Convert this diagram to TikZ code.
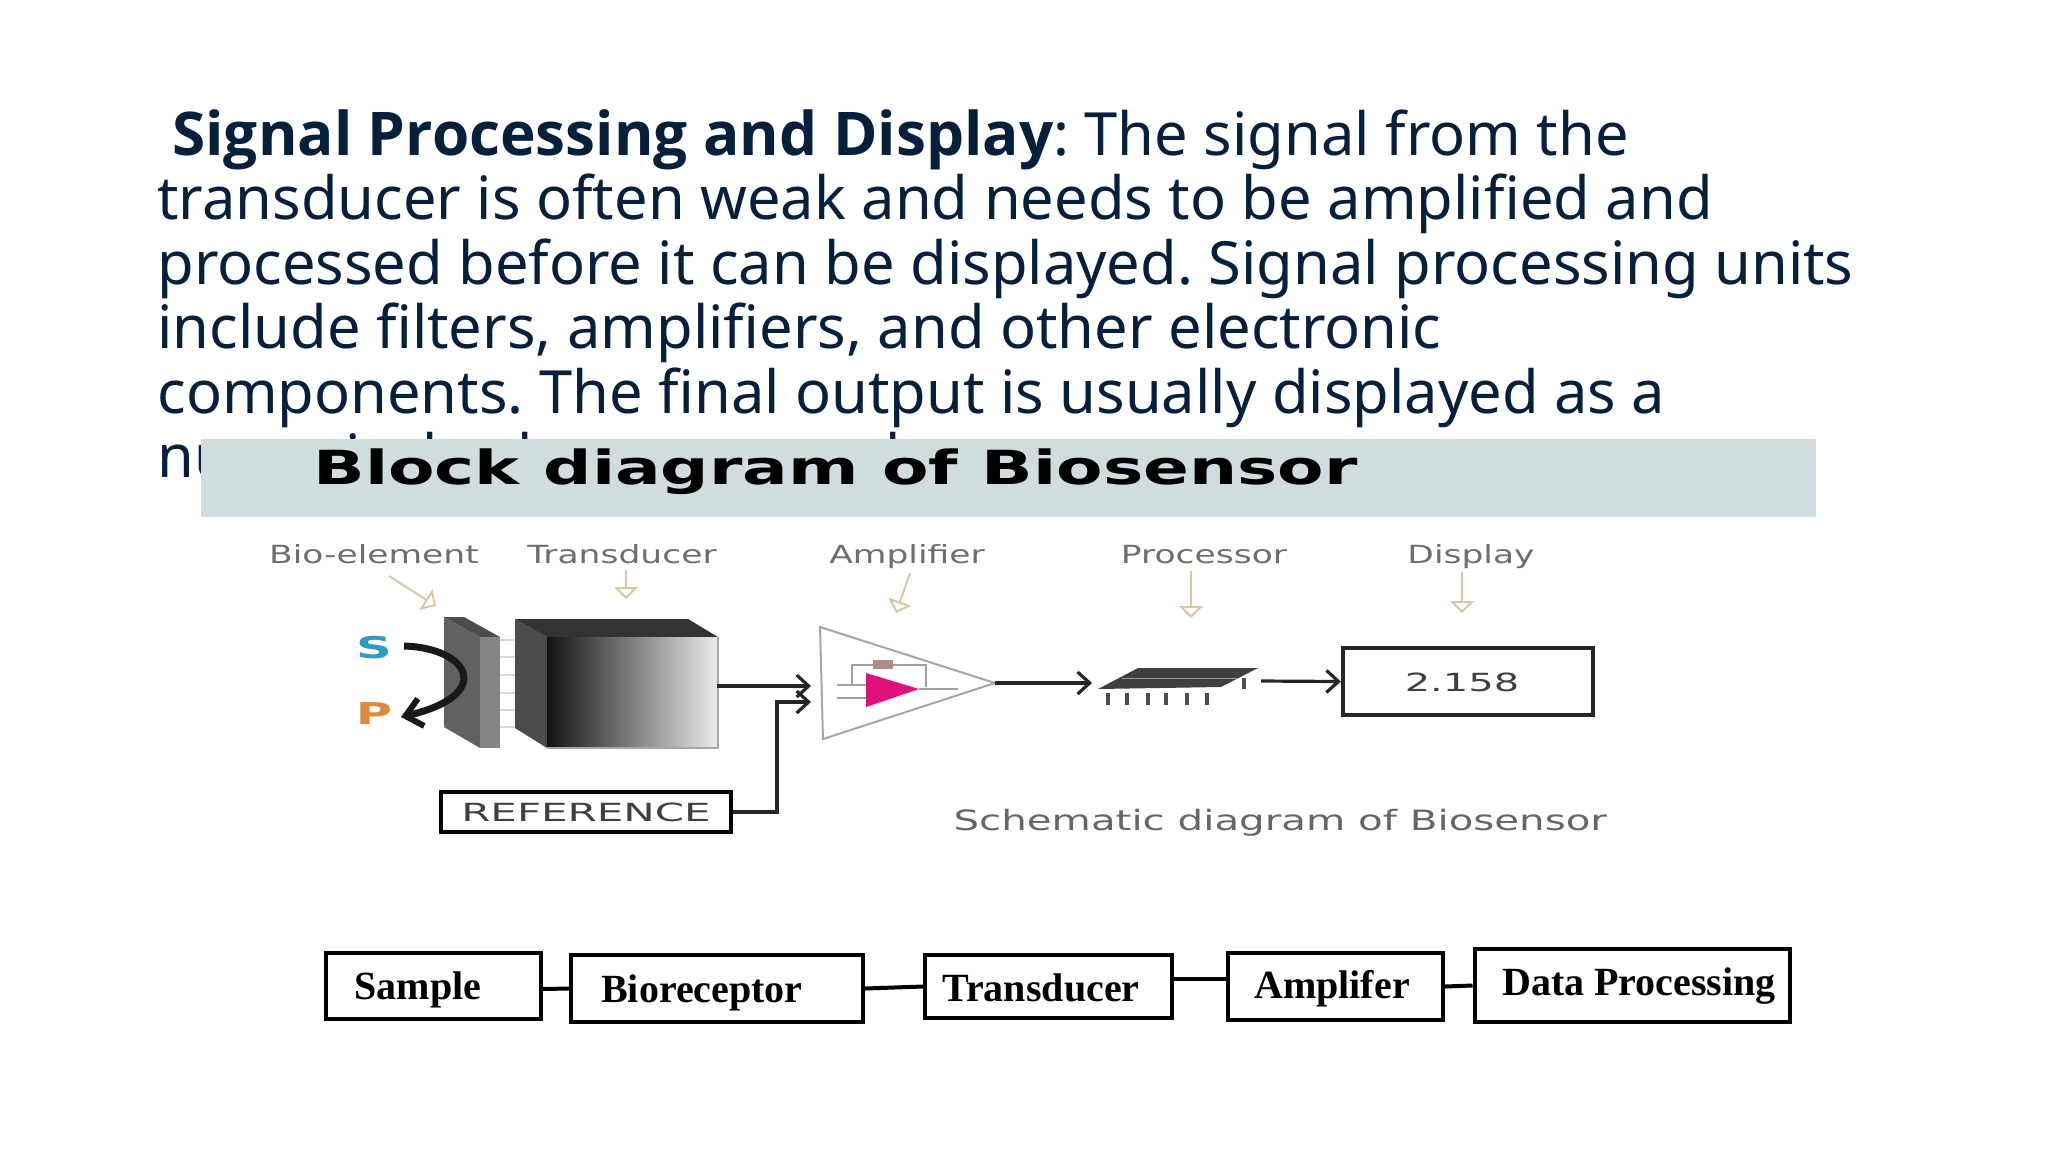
\documentclass[tikz,border=0pt]{standalone}
\usepackage{fontspec}
\usetikzlibrary{arrows.meta}
\setmainfont{Noto Sans}[BoldFont={Open Sans Bold}, BoldFeatures={Scale=1.011}]
\newfontfamily\titlefont{DejaVu Sans}
\newfontfamily\boxfont{Liberation Serif}
\definecolor{slidetext}{HTML}{06203C}
\definecolor{bandfill}{HTML}{D1DCDF}
\definecolor{labelgray}{HTML}{6E6E6E}
\definecolor{tanline}{HTML}{D9C6A5}
\definecolor{sblue}{HTML}{2E9BBF}
\definecolor{porange}{HTML}{D98C3C}
\definecolor{magentaamp}{HTML}{E0107A}
\frenchspacing
\begin{document}
\begin{tikzpicture}[x=0.5pt, y=-0.5pt]
    % Define styles
    \tikzset{
        paragraph/.style={anchor=north west, inner sep=0pt, align=left, text=slidetext, font=\fontsize{29.8}{32.25}\selectfont},
        toplabel/.style={text=labelgray, xscale=1.38, text height=9pt, text depth=3pt, font=\titlefont\fontsize{12.5}{14}\selectfont},
        tanarrow/.style={draw=tanline, line width=1pt, -{Triangle[open, length=6pt, width=12pt]}},
        sigarrow/.style={draw=black!85, line width=1.6pt, -{Straight Barb[length=6pt, width=11pt, line width=1.6pt]}},
        valuebox/.style={draw=black!85, line width=2.2pt, fill=white, inner sep=0pt},
        blockbox/.style={draw=black, line width=2pt, fill=white, inner sep=0pt},
        blocktext/.style={font=\boxfont\bfseries\fontsize{20}{23}\selectfont},
        linkline/.style={draw=black, line width=2pt},
        ampwire/.style={draw=gray!75, line width=0.8pt}
    }
    \useasboundingbox (0,0) rectangle (2048,1152);

    % Slide text
    \node[paragraph] (bodytext) at (157,109) {\hspace*{7.5pt}\textbf{Signal Processing and Display}: The signal from the\\
        transducer is often weak and needs to be amplified and\\
        processed before it can be displayed. Signal processing units\\
        include filters, amplifiers, and other electronic\\
        components. The final output is usually displayed as a\\
        numerical value on a graph.};

    % Title band
    \fill[bandfill] (201,439) rectangle (1816,517);
    \node[anchor=west, inner sep=0pt, xscale=1.44, font=\titlefont\bfseries\fontsize{23.5}{28}\selectfont] (bandtitle) at (313,472) {Block diagram of Biosensor};

    % Top labels
    \node[toplabel] (lbio) at (374,557) {Bio-element};
    \node[toplabel] (ltrans) at (622,557) {Transducer};
    \node[toplabel] (lamp) at (907,557) {Amplifier};
    \node[toplabel] (lproc) at (1204,557) {Processor};
    \node[toplabel] (ldisp) at (1471,557) {Display};

    % Small arrows
    \draw[tanarrow] (389,576) -- (436,606);
    \draw[tanarrow] (626,570) -- (626,599);
    \draw[tanarrow] (910,573) -- (896,613);
    \draw[tanarrow] (1191,571) -- (1191,618);
    \draw[tanarrow] (1462,572) -- (1462,613);

    % Bio-element slab
    \fill[black!62] (444,617) -- (480,637) -- (480,748) -- (444,727) -- cycle;
    \fill[black!70] (444,617) -- (464,617) -- (500,637) -- (480,637) -- cycle;
    \fill[black!48] (480,637) -- (500,637) -- (500,748) -- (480,748) -- cycle;
    \foreach \ypin in {640,657,675,693,710,727}
        \draw[black!15, line width=0.8pt] (500,\ypin) -- (515,\ypin);

    % Transducer block
    \fill[black!70] (515,619) -- (547,637) -- (547,748) -- (515,728) -- cycle;
    \fill[black!80] (515,619) -- (688,619) -- (718,637) -- (547,637) -- cycle;
    \shade[left color=black!92, middle color=black!52, right color=black!8] (547,637) rectangle (718,748);
    \draw[black!35, line width=0.8pt] (718,637) -- (718,748) -- (547,748);

    % Substrate and product
    \node[text=sblue, xscale=1.65, inner sep=0pt, font=\titlefont\bfseries\fontsize{15}{18}\selectfont] (subs) at (374,648) {S};
    \node[text=porange, xscale=1.65, inner sep=0pt, font=\titlefont\bfseries\fontsize{15}{18}\selectfont] (prod) at (374,714) {P};
    \draw[black!90, line width=3.5pt, -{Straight Barb[length=8pt, width=14pt, line width=3pt]}] (404,646) .. controls (470,648) and (495,695) .. (401,717);

    % Amplifier
    \coordinate (ampin1) at (811,686);
    \coordinate (ampin2) at (811,702);
    \coordinate (ampout) at (995,683);
    \draw[draw=black!35, line width=1pt, fill=white] (820,627) -- (ampout) -- (823,739) -- cycle;
    \draw[ampwire] (837,685) -- (866,685);
    \draw[ampwire] (837,698) -- (866,698);
    \draw[ampwire] (919,689) -- (958,689);
    \draw[ampwire] (852,685) -- (852,665) -- (926,665) -- (926,687);
    \fill[black!25!pink!70!gray] (873,660) rectangle (893,669);
    \fill[magentaamp] (866,673) -- (919,689) -- (866,707) -- cycle;

    % Reference
    \node[draw=black, line width=2.2pt, fill=white, minimum width=145pt, minimum height=20pt, inner sep=0pt, text=black!75] (reference) at (586,812) {\titlefont\fontsize{12.5}{15}\selectfont\scalebox{1.68}[1]{REFERENCE}};
    \coordinate (transout) at (717,686);
    \draw[sigarrow] (transout) -- (ampin1);
    \draw[sigarrow] (reference.east) -| (777,702) -- (ampin2);

    % Processor chip
    \coordinate (chipin) at (1092,683);
    \coordinate (chipout) at (1261,681);
    \draw[sigarrow] (ampout) -- (chipin);
    \fill[black!75] (1138,668) -- (1258,668) -- (1221,687) -- (1098,689) -- cycle;
    \draw[black!40, line width=0.4pt] (1122,678) -- (1238,678);
    \foreach \xpin in {1108,1127,1148,1166,1187,1207}
        \draw[black!70, line width=2.2pt] (\xpin,693) -- (\xpin,705);
    \draw[black!70, line width=2.2pt] (1244,678) -- (1244,689);

    % Display
    \node[valuebox, minimum width=125pt, minimum height=33.5pt] (display) at (1468,681.5) {};
    \node[text=black!75, xscale=1.6, inner sep=0pt, font=\titlefont\fontsize{12.5}{15}\selectfont] (dvalue) at (1462,682) {2.158};
    \draw[sigarrow] (chipout) -- (display.west);

    \node[anchor=west, text=black!60, inner sep=0pt, xscale=1.44, font=\titlefont\fontsize{14}{16}\selectfont] (schemtitle) at (953,823) {Schematic diagram of Biosensor};

    % Lower block row
    \node[blockbox, minimum width=107.5pt, minimum height=33pt] (sample) at (433,986) {};
    \node[blockbox, minimum width=146pt, minimum height=33.5pt] (biorec) at (717,988.5) {};
    \node[blockbox, minimum width=123.5pt, minimum height=31.5pt] (transd) at (1048.5,986.5) {};
    \node[blockbox, minimum width=107.5pt, minimum height=33.5pt] (amplif) at (1335.5,986.5) {};
    \node[blockbox, minimum width=157.5pt, minimum height=36.5pt] (dataproc) at (1632,985.5) {};

    \node[blocktext] (tsample) at (418,990) {Sample};
    \node[blocktext] (tbiorec) at (702,993) {Bioreceptor};
    \node[blocktext] (ttransd) at (1041,988) {Transducer};
    \node[blocktext] (tamplif) at (1332,989) {Amplifer};
    \node[blocktext] (tdataproc) at (1639,986) {Data Processing};

    \draw[linkline] ([yshift=-1.5pt]sample.east) -- (biorec.west);
    \draw[linkline] (biorec.east) -- (transd.west);
    \draw[linkline] ([yshift=4pt]transd.east) -- ([yshift=4pt]amplif.west);
    \draw[linkline] (amplif.east) -- (dataproc.west);
\end{tikzpicture}
\end{document}
